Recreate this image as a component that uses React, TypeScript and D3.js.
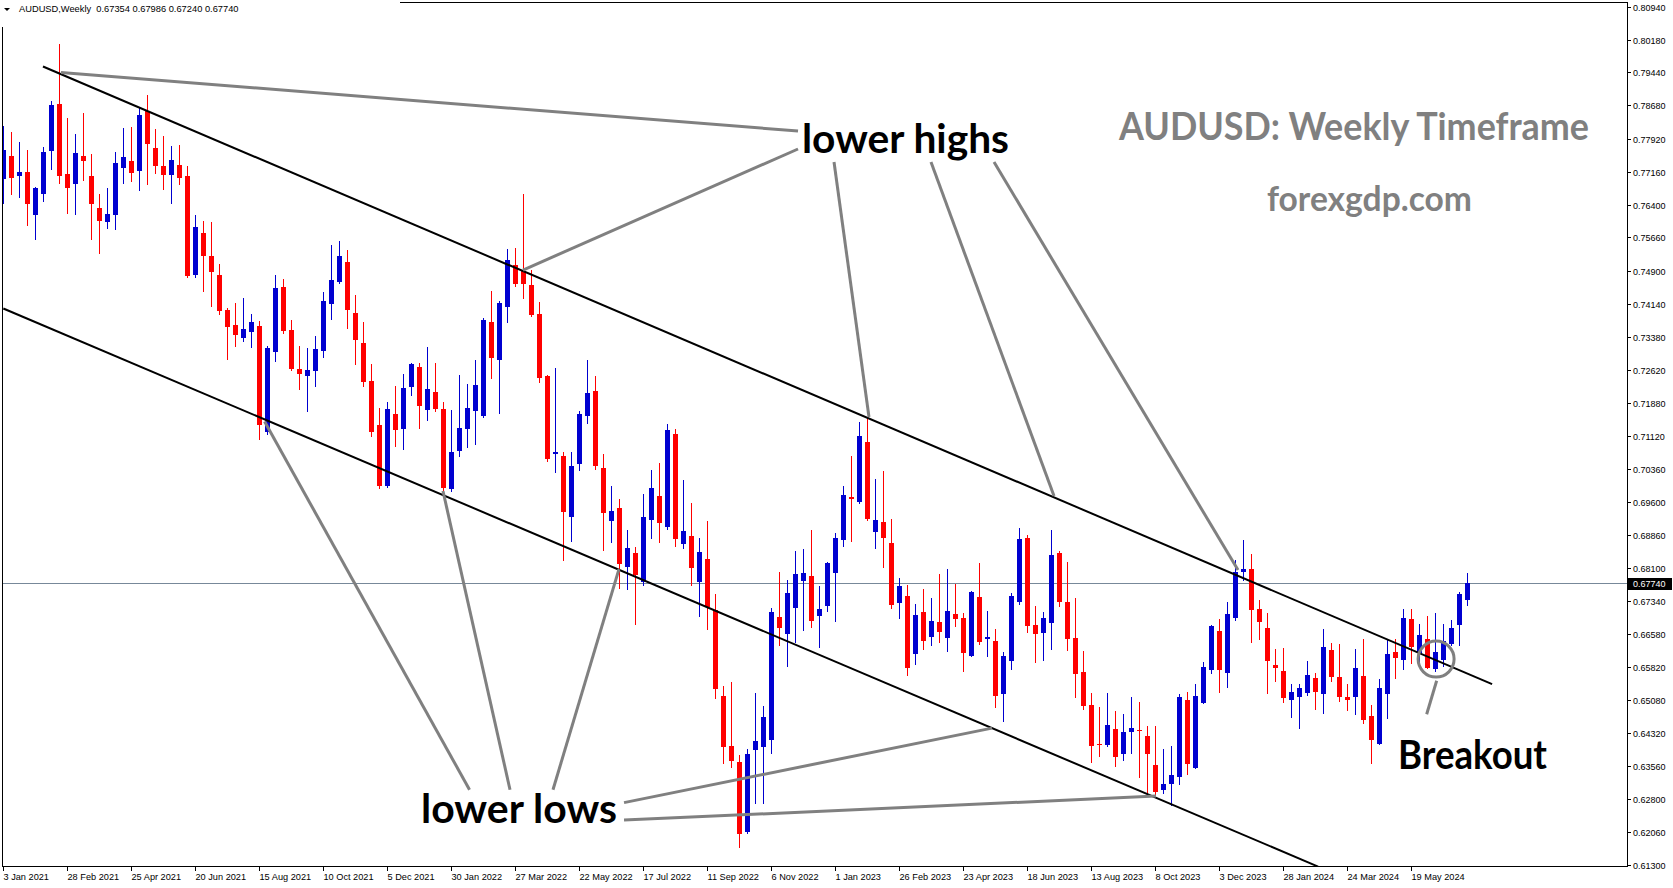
import React from 'react';
import * as d3 from 'd3';

const W = 1673;
const H = 888;

const openP = [
  0.7700,0.7752,0.7707,0.7715,0.7618,0.7666,0.7764,0.7871,0.7711,0.7689,
  0.7752,0.7706,0.7633,0.7602,0.7618,0.7725,0.7740,0.7718,0.7855,0.7770,
  0.7729,0.7709,0.7731,0.7706,0.7480,0.7576,0.7523,0.7480,0.7400,0.7365,
  0.7336,0.7350,0.7363,0.7121,0.7304,0.7452,0.7353,0.7265,0.7249,0.7259,
  0.7307,0.7414,0.7464,0.7509,0.7393,0.7324,0.7237,0.7137,0.6998,0.7162,
  0.7128,0.7224,0.7269,0.7172,0.7212,0.7173,0.6991,0.7076,0.7128,0.7169,
  0.7158,0.7372,0.7286,0.7407,0.7503,0.7489,0.7457,0.7390,0.7249,0.7071,
  0.7066,0.6927,0.7048,0.7158,0.7214,0.7038,0.6918,0.6947,0.6812,0.6844,
  0.6778,0.6920,0.6974,0.6904,0.7117,0.6865,0.6883,0.6778,0.6830,0.6713,
  0.6516,0.6402,0.6365,0.6205,0.6393,0.6401,0.6416,0.6697,0.6659,0.6718,
  0.6780,0.6791,0.6700,0.6723,0.6799,0.6874,0.6972,0.6960,0.7098,0.6892,
  0.6915,0.6866,0.6730,0.6745,0.6613,0.6709,0.6652,0.6686,0.6650,0.6704,
  0.6694,0.6609,0.6743,0.6646,0.6642,0.6522,0.6597,0.6732,0.6878,0.6679,
  0.6661,0.6684,0.6844,0.6731,0.6650,0.6571,0.6496,0.6407,0.6405,0.6441,
  0.6385,0.6435,0.6439,0.6425,0.6359,0.6302,0.6315,0.6332,0.6507,0.6351,
  0.6501,0.6577,0.6665,0.6570,0.6696,0.6801,0.6807,0.6716,0.6672,0.6587,
  0.6574,0.6508,0.6515,0.6523,0.6558,0.6522,0.6622,0.6560,0.6514,0.6515,
  0.6563,0.6471,0.6407,0.6522,0.6617,0.6600,0.6692,0.6616,0.6647,0.6579,
  0.6600,0.6636,0.6680,0.67354,
];
const highP = [
  0.7821,0.7807,0.7784,0.7766,0.7682,0.7773,0.7878,0.8008,0.7839,0.7802,
  0.7850,0.7757,0.7665,0.7679,0.7761,0.7816,0.7818,0.7862,0.7892,0.7814,
  0.7798,0.7775,0.7777,0.7728,0.7617,0.7603,0.7601,0.7505,0.7404,0.7416,
  0.7427,0.7390,0.7374,0.7317,0.7480,0.7471,0.7377,0.7317,0.7313,0.7340,
  0.7441,0.7548,0.7558,0.7537,0.7434,0.7372,0.7276,0.7175,0.7189,0.7226,
  0.7253,0.7278,0.7278,0.7315,0.7278,0.7189,0.7171,0.7251,0.7230,0.7285,
  0.7381,0.7443,0.7420,0.7539,0.7542,0.7665,0.7491,0.7418,0.7251,0.7267,
  0.7075,0.7075,0.7169,0.7285,0.7249,0.7070,0.6998,0.6968,0.6897,0.6858,
  0.6979,0.7034,0.7050,0.7140,0.7128,0.7011,0.6959,0.6879,0.6917,0.6750,
  0.6539,0.6548,0.6382,0.6395,0.6523,0.6494,0.6718,0.6800,0.6782,0.6848,
  0.6853,0.6896,0.6768,0.6823,0.6889,0.6997,0.7066,0.7143,0.7153,0.7013,
  0.7031,0.6921,0.6786,0.6770,0.6727,0.6761,0.6741,0.6796,0.6807,0.6773,
  0.6706,0.6757,0.6821,0.6711,0.6670,0.6618,0.6752,0.6901,0.6885,0.6722,
  0.6709,0.6896,0.6849,0.6823,0.6741,0.6619,0.6524,0.6491,0.6524,0.6482,
  0.6475,0.6515,0.6504,0.6448,0.6448,0.6396,0.6402,0.6521,0.6526,0.6544,
  0.6594,0.6680,0.6693,0.6732,0.6828,0.6873,0.6841,0.6737,0.6706,0.6624,
  0.6626,0.6544,0.6544,0.6597,0.6569,0.6670,0.6637,0.6635,0.6544,0.6624,
  0.6647,0.6496,0.6555,0.6645,0.6647,0.6715,0.6715,0.6681,0.6699,0.6706,
  0.6681,0.6690,0.6754,0.67986,
];
const lowP = [
  0.7644,0.7666,0.7659,0.7593,0.7563,0.7650,0.7723,0.7691,0.7622,0.7620,
  0.7698,0.7563,0.7531,0.7588,0.7586,0.7691,0.7695,0.7675,0.7689,0.7712,
  0.7677,0.7645,0.7689,0.7476,0.7476,0.7444,0.7409,0.7391,0.7288,0.7318,
  0.7329,0.7316,0.7105,0.7117,0.7284,0.7346,0.7263,0.7220,0.7169,0.7226,
  0.7293,0.7378,0.7462,0.7359,0.7277,0.7226,0.7112,0.6993,0.6995,0.7089,
  0.7082,0.7206,0.7130,0.7149,0.7169,0.6977,0.6986,0.7066,0.7087,0.7094,
  0.7156,0.7245,0.7165,0.7373,0.7455,0.7426,0.7386,0.7236,0.7055,0.7030,
  0.6828,0.6872,0.7034,0.7142,0.7037,0.6851,0.6870,0.6764,0.6762,0.6682,
  0.6770,0.6879,0.6870,0.6899,0.6860,0.6856,0.6771,0.6700,0.6671,0.6513,
  0.6364,0.6355,0.6172,0.6204,0.6272,0.6272,0.6387,0.6634,0.6586,0.6641,
  0.6668,0.6675,0.6629,0.6712,0.6689,0.6860,0.6872,0.6958,0.6919,0.6856,
  0.6812,0.6719,0.6696,0.6565,0.6590,0.6625,0.6634,0.6641,0.6620,0.6677,
  0.6574,0.6607,0.6636,0.6607,0.6492,0.6460,0.6579,0.6728,0.6664,0.6595,
  0.6600,0.6625,0.6723,0.6622,0.6515,0.6487,0.6366,0.6380,0.6403,0.6357,
  0.6371,0.6387,0.6332,0.6288,0.6286,0.6295,0.6268,0.6316,0.6339,0.6351,
  0.6501,0.6570,0.6526,0.6538,0.6691,0.6782,0.6641,0.6648,0.6524,0.6551,
  0.6503,0.6469,0.6444,0.6519,0.6487,0.6478,0.6551,0.6506,0.6485,0.6476,
  0.6455,0.6364,0.6407,0.6467,0.6558,0.6579,0.6593,0.6586,0.6581,0.6574,
  0.6586,0.6634,0.6634,0.67240,
];
const closeP = [
  0.7766,0.7702,0.7715,0.7643,0.7679,0.7761,0.7869,0.7707,0.7679,0.7759,
  0.7741,0.7643,0.7604,0.7619,0.7736,0.7750,0.7712,0.7846,0.7780,0.7730,
  0.7709,0.7743,0.7702,0.7478,0.7589,0.7524,0.7487,0.7398,0.7361,0.7343,
  0.7356,0.7372,0.7137,0.7313,0.7450,0.7352,0.7265,0.7254,0.7262,0.7310,
  0.7420,0.7468,0.7523,0.7400,0.7332,0.7236,0.7121,0.6998,0.7173,0.7126,
  0.7221,0.7276,0.7181,0.7219,0.7174,0.6993,0.7075,0.7130,0.7175,0.7228,
  0.7377,0.7291,0.7416,0.7514,0.7460,0.7460,0.7389,0.7243,0.7059,0.7075,
  0.6938,0.7043,0.7162,0.7210,0.7043,0.6936,0.6940,0.6819,0.6856,0.6794,
  0.6927,0.6992,0.6913,0.7125,0.6876,0.6895,0.6810,0.6847,0.6721,0.6532,
  0.6401,0.6368,0.6201,0.6384,0.6413,0.6468,0.6709,0.6673,0.6752,0.6796,
  0.6798,0.6689,0.6715,0.6821,0.6878,0.6976,0.6967,0.7111,0.6921,0.6919,
  0.6879,0.6725,0.6768,0.6581,0.6702,0.6643,0.6688,0.6664,0.6711,0.6693,
  0.6616,0.6754,0.6641,0.6652,0.6517,0.6609,0.6745,0.6876,0.6677,0.6659,
  0.6695,0.6839,0.6732,0.6648,0.6568,0.6494,0.6403,0.6404,0.6450,0.6378,
  0.6434,0.6443,0.6436,0.6385,0.6298,0.6315,0.6336,0.6515,0.6362,0.6516,
  0.6583,0.6677,0.6577,0.6704,0.6800,0.6807,0.6714,0.6687,0.6597,0.6581,
  0.6513,0.6526,0.6535,0.6564,0.6526,0.6628,0.6561,0.6515,0.6508,0.6580,
  0.6462,0.6416,0.6535,0.6612,0.6604,0.6695,0.6629,0.6656,0.6581,0.6617,
  0.6642,0.6672,0.6750,0.67740,
];

const xTickLabels = [
  '3 Jan 2021', '28 Feb 2021', '25 Apr 2021', '20 Jun 2021', '15 Aug 2021', '10 Oct 2021',
  '5 Dec 2021', '30 Jan 2022', '27 Mar 2022', '22 May 2022', '17 Jul 2022', '11 Sep 2022',
  '6 Nov 2022', '1 Jan 2023', '26 Feb 2023', '23 Apr 2023', '18 Jun 2023', '13 Aug 2023',
  '8 Oct 2023', '3 Dec 2023', '28 Jan 2024', '24 Mar 2024', '19 May 2024',
];
const xTickStep = 8;

const yTickValues = [
  0.8094, 0.8018, 0.7944, 0.7868, 0.7792, 0.7716, 0.7640, 0.7566, 0.7490, 0.7414,
  0.7338, 0.7262, 0.7188, 0.7112, 0.7036, 0.6960, 0.6886, 0.6810, 0.6734, 0.6658,
  0.6582, 0.6508, 0.6432, 0.6356, 0.6280, 0.6206, 0.6130,
];

const lastPrice = 0.6774;
const headerText = 'AUDUSD,Weekly  0.67354 0.67986 0.67240 0.67740';

// annotation lines in (bar index, price)
const channelLines = [
  { i1: 4.96, p1: 0.79567, i2: 186.1, p2: 0.65438 },
  { i1: 0, p1: 0.74032, i2: 164.35, p2: 0.61264 },
];
const highPointers = [
  { i1: 7.21, p1: 0.7943, i2: 99.34, p2: 0.78091 },
  { i1: 64.96, p1: 0.74911, i2: 99.34, p2: 0.7768 },
  { i1: 103.84, p1: 0.77382, i2: 108.21, p2: 0.71548 },
  { i1: 115.96, p1: 0.77382, i2: 131.34, p2: 0.6974 },
  { i1: 123.84, p1: 0.77382, i2: 154.34, p2: 0.68047 },
];
const lowPointers = [
  { i1: 58.28, p1: 0.63022, i2: 32.66, p2: 0.71445 },
  { i1: 63.34, p1: 0.63022, i2: 54.96, p2: 0.69855 },
  { i1: 68.71, p1: 0.63022, i2: 76.96, p2: 0.6807 },
  { i1: 77.59, p1: 0.62727, i2: 123.59, p2: 0.64431 },
  { i1: 77.59, p1: 0.62327, i2: 144.09, p2: 0.62876 },
];
const breakoutPointer = { i1: 179.17, p1: 0.65514, i2: 177.92, p2: 0.64748 };
const breakoutCircle = { i: 179.1, p: 0.6601 };

export default function App() {
  const n = closeP.length;
  const plotLeft = 2;
  const plotRight = 1627;
  const plotBottom = 866;
  const x = d3.scaleLinear().domain([0, n - 1]).range([3.3, 3.3 + 8 * (n - 1)]);
  const y = d3.scaleLinear().domain([0.613, 0.8094]).range([865, 6.5]);
  const fmt = d3.format('.5f');
  const gray = '#808080';
  const bull = '#0000D0';
  const bear = '#FF0000';
  const axisFont = '"Liberation Sans", Arial, sans-serif';
  const bigFont = 'Lato, "Open Sans", sans-serif';

  const candles = d3.range(n).map((i) => {
    const o = openP[i], c = closeP[i];
    const h = Math.max(highP[i], o, c), l = Math.min(lowP[i], o, c);
    const cx = Math.round(x(i));
    const col = c >= o ? bull : bear;
    const yTop = Math.round(y(Math.max(o, c)));
    const yBot = Math.round(y(Math.min(o, c)));
    return (
      <g key={i}>
        <line x1={cx + 0.5} x2={cx + 0.5} y1={Math.round(y(h))} y2={Math.round(y(l)) + 1} stroke={col} strokeWidth={1} />
        <rect x={cx - 2} y={yTop} width={5} height={Math.max(1, yBot - yTop)} fill={col} />
      </g>
    );
  });

  const seg = (d: { i1: number; p1: number; i2: number; p2: number }, k: string, stroke: string, w: number) => (
    <line key={k} x1={x(d.i1)} y1={y(d.p1)} x2={x(d.i2)} y2={y(d.p2)} stroke={stroke} strokeWidth={w} />
  );

  const yLast = y(lastPrice);

  return (
    <svg width={W} height={H} style={{ position: 'absolute', left: 0, top: 0, background: '#fff' }}>
      <defs>
        <clipPath id="plot">
          <rect x={plotLeft} y={0} width={plotRight - plotLeft} height={plotBottom} />
        </clipPath>
      </defs>
      <rect x={0} y={0} width={W} height={H} fill="#fff" />

      {/* current price line */}
      <line x1={plotLeft} x2={plotRight} y1={Math.round(yLast) + 0.5} y2={Math.round(yLast) + 0.5} stroke="#778899" strokeWidth={1} />

      <g clipPath="url(#plot)">
        {candles}
        {channelLines.map((d, k) => seg(d, 'ch' + k, '#000', 2))}
        {highPointers.map((d, k) => seg(d, 'hp' + k, gray, 3))}
        {lowPointers.map((d, k) => seg(d, 'lp' + k, gray, 3))}
        {seg(breakoutPointer, 'bp', gray, 3)}
        <circle cx={x(breakoutCircle.i)} cy={y(breakoutCircle.p)} r={18} fill="none" stroke={gray} strokeWidth={3} />
      </g>

      {/* frame */}
      <line x1={2.5} x2={2.5} y1={27} y2={plotBottom} stroke="#000" strokeWidth={1} />
      <line x1={2} x2={plotRight + 0.5} y1={plotBottom + 0.5} y2={plotBottom + 0.5} stroke="#000" strokeWidth={1} />
      <line x1={plotRight + 0.5} x2={plotRight + 0.5} y1={2} y2={plotBottom + 1} stroke="#000" strokeWidth={1} />
      <line x1={400} x2={plotRight + 0.5} y1={2.5} y2={2.5} stroke="#000" strokeWidth={1} />

      {/* header */}
      <path d="M4,8 L10,8 L7,11 Z" fill="#000" />
      <text x={19} y={12} fontFamily={axisFont} fontSize={9.3} fill="#000" style={{ whiteSpace: 'pre' }}>{headerText}</text>

      {/* y axis */}
      {yTickValues.map((v) => {
        const yy = Math.round(y(v)) + 0.5;
        return (
          <g key={v}>
            <line x1={plotRight} x2={plotRight + 4} y1={yy} y2={yy} stroke="#000" />
            <text x={1633} y={yy + 3.3} fontFamily={axisFont} fontSize={9} fill="#000">{fmt(v)}</text>
          </g>
        );
      })}
      <rect x={1628} y={Math.round(yLast) - 5} width={44} height={12} fill="#000" />
      <text x={1633} y={Math.round(yLast) + 4} fontFamily={axisFont} fontSize={9} fill="#fff">{fmt(lastPrice)}</text>

      {/* x axis */}
      {xTickLabels.map((t, k) => {
        const xx = Math.round(x(k * xTickStep)) + 0.5;
        return (
          <g key={t}>
            <line x1={xx} x2={xx} y1={plotBottom} y2={plotBottom + 5} stroke="#000" />
            <text x={xx} y={880} fontFamily={axisFont} fontSize={9.2} fill="#000">{t}</text>
          </g>
        );
      })}

      {/* annotations */}
      <text x={802} y={153} fontFamily={bigFont} fontWeight={700} fontSize={40} textLength={207} lengthAdjust="spacingAndGlyphs" fill="#000">lower highs</text>
      <text x={421} y={823} fontFamily={bigFont} fontWeight={700} fontSize={40} textLength={196} lengthAdjust="spacingAndGlyphs" fill="#000">lower lows</text>
      <text x={1398} y={769} fontFamily={bigFont} fontWeight={700} fontSize={40} textLength={149} lengthAdjust="spacingAndGlyphs" fill="#000">Breakout</text>
      <text x={1119} y={140} fontFamily={bigFont} fontWeight={700} fontSize={38} textLength={470} lengthAdjust="spacingAndGlyphs" fill="#808080">AUDUSD: Weekly Timeframe</text>
      <text x={1267} y={211} fontFamily={bigFont} fontWeight={700} fontSize={35} textLength={205} lengthAdjust="spacingAndGlyphs" fill="#808080">forexgdp.com</text>
    </svg>
  );
}
